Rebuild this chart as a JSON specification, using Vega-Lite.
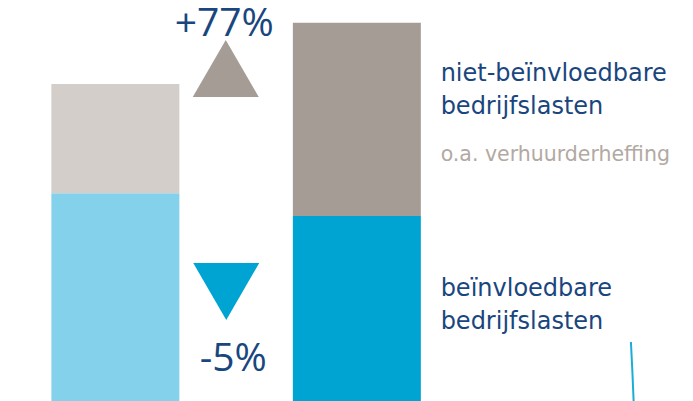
{
  "$schema": "https://vega.github.io/schema/vega-lite/v6.json",
  "width": 693,
  "height": 401,
  "padding": 0,
  "autosize": {"type": "none"},
  "config": {"view": {"stroke": null}},
  "resolve": {"scale": {"color": "independent", "shape": "independent"}},
  "layer": [
    {
      "data": {"values": [
        {"bar": 0, "part": "beïnvloedbare (voor)", "rank": 1, "value": 100.15},
        {"bar": 0, "part": "niet-beïnvloedbare (voor)", "rank": 2, "value": 23.76},
        {"bar": 1, "part": "beïnvloedbare (na)", "rank": 1, "value": 95.22},
        {"bar": 1, "part": "niet-beïnvloedbare (na)", "rank": 2, "value": 42.02}
      ]},
      "mark": {"type": "bar", "size": 128, "clip": true},
      "encoding": {
        "x": {"field": "bar", "type": "quantitative", "scale": {"domain": [-0.4571, 2.3714], "nice": false, "zero": false}, "axis": null},
        "y": {"field": "value", "type": "quantitative", "stack": "zero", "scale": {"domain": [55, 142.174], "nice": false, "zero": false}, "axis": null},
        "order": {"field": "rank", "type": "quantitative"},
        "color": {"field": "part", "type": "nominal", "legend": null,
          "scale": {"domain": ["beïnvloedbare (voor)", "niet-beïnvloedbare (voor)", "beïnvloedbare (na)", "niet-beïnvloedbare (na)"],
                    "range": ["#84D1EB", "#D3CECA", "#00A4D3", "#A69C96"]}}
      }
    },
    {
      "data": {"values": [
        {"x": 0.4571, "y": 127.28, "dir": "stijging"},
        {"x": 0.4592, "y": 78.8, "dir": "daling"}
      ]},
      "mark": {"type": "point", "filled": true, "opacity": 1, "size": 4356},
      "encoding": {
        "x": {"field": "x", "type": "quantitative"},
        "y": {"field": "y", "type": "quantitative"},
        "shape": {"field": "dir", "type": "nominal", "legend": null, "scale": {"domain": ["stijging", "daling"], "range": ["triangle-up", "triangle-down"]}},
        "color": {"field": "dir", "type": "nominal", "legend": null, "scale": {"domain": ["stijging", "daling"], "range": ["#A69C96", "#00A4D3"]}}
      }
    },
    {
      "data": {"values": [
        {"x": 0.451, "y": 134.35, "label": "+77%"},
        {"x": 0.488, "y": 61.52, "label": "-5%"}
      ]},
      "mark": {"type": "text", "font": "Open Sans", "fontSize": 39, "color": "#19467E", "align": "center", "baseline": "alphabetic"},
      "encoding": {
        "x": {"field": "x", "type": "quantitative"},
        "y": {"field": "y", "type": "quantitative"},
        "text": {"field": "label"}
      }
    },
    {
      "data": {"values": [
        {"x": 1.347, "y": 124.63, "label": "niet-beïnvloedbare\nbedrijfslasten"},
        {"x": 1.347, "y": 77.89, "label": "beïnvloedbare\nbedrijfslasten"}
      ]},
      "mark": {"type": "text", "font": "DejaVu Sans", "fontSize": 24, "color": "#19467E", "align": "left", "baseline": "alphabetic", "lineBreak": "\n", "lineHeight": 33},
      "encoding": {
        "x": {"field": "x", "type": "quantitative"},
        "y": {"field": "y", "type": "quantitative"},
        "text": {"field": "label"}
      }
    },
    {
      "data": {"values": [
        {"x": 1.347, "y": 107.17, "label": "o.a. verhuurderheffing"}
      ]},
      "mark": {"type": "text", "font": "DejaVu Sans", "fontSize": 20.5, "color": "#B2A9A3", "align": "left", "baseline": "alphabetic"},
      "encoding": {
        "x": {"field": "x", "type": "quantitative"},
        "y": {"field": "y", "type": "quantitative"},
        "text": {"field": "label"}
      }
    },
    {
      "data": {"values": [
        {"x": 2.135, "y": 67.83},
        {"x": 2.141, "y": 61.5},
        {"x": 2.147, "y": 54}
      ]},
      "mark": {"type": "line", "color": "#1BADD8", "strokeWidth": 2, "clip": true, "interpolate": "monotone"},
      "encoding": {
        "x": {"field": "x", "type": "quantitative"},
        "y": {"field": "y", "type": "quantitative"}
      }
    }
  ]
}
